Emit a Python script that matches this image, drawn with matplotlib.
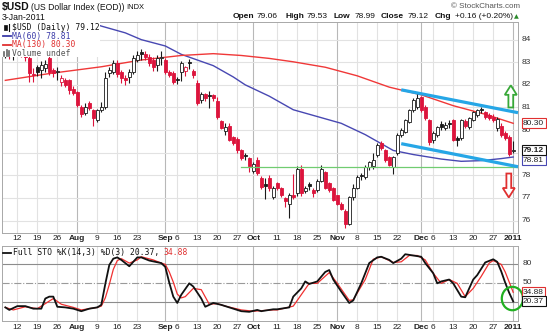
import matplotlib
matplotlib.use("Agg")
import matplotlib.pyplot as plt
import pandas as pd
from matplotlib.patches import Rectangle, FancyArrow, Ellipse
from matplotlib.lines import Line2D
from matplotlib.transforms import blended_transform_factory as blend

plt.rcParams['font.family'] = ['Liberation Sans', 'DejaVu Sans']

W, H = 547, 336

# trading days on the chart (no bar on Thanksgiving)
dates = pd.bdate_range("2010-07-07", "2011-01-03")
dates = dates[dates != pd.Timestamp("2010-11-25")]

opens = [
    83.40, 83.55, 83.30, 83.50, 83.70, 83.40, 83.18, 82.50, 82.78, 82.65,
    82.75, 83.18, 82.65, 82.55, 82.12, 82.20, 82.20, 81.80, 81.67, 81.01,
    80.74, 81.19, 80.87, 80.43, 80.90, 81.00, 82.52, 82.56, 82.96, 82.56,
    82.30, 82.34, 82.56, 83.09, 83.45, 83.38, 83.22, 83.10, 82.87, 83.20,
    83.09, 82.56, 82.52, 82.25, 82.55, 82.60, 83.00, 82.60, 82.07, 81.32,
    81.60, 81.56, 81.54, 81.30, 80.40, 79.95, 80.20, 79.68, 79.60, 79.10,
    78.90, 78.75, 78.20, 78.70, 77.90, 77.62, 77.90, 77.02, 77.64, 77.42,
    77.00, 76.75, 77.15, 77.20, 78.30, 77.30, 77.60, 77.33, 77.33, 77.77,
    78.13, 77.64, 77.42, 77.11, 76.75, 76.44, 75.87, 77.02, 77.46, 78.00,
    77.91, 78.35, 78.40, 78.88, 79.41, 79.10, 78.79, 78.35, 78.97, 79.77,
    79.90, 80.34, 80.87, 81.01, 81.45, 81.00, 80.43, 79.55, 79.77, 80.25,
    80.08, 80.30, 80.43, 79.65, 79.63, 80.40, 80.12, 80.43, 80.65, 80.95,
    80.79, 80.65, 80.60, 80.10, 80.20, 79.86, 79.68, 79.06]
highs = [
    83.75, 83.80, 83.65, 83.90, 83.85, 83.55, 83.30, 82.74, 82.90, 83.05,
    83.10, 83.30, 82.75, 82.78, 82.45, 82.30, 82.25, 81.95, 81.75, 81.10,
    81.20, 81.30, 80.95, 80.95, 81.25, 82.55, 82.80, 83.10, 83.10, 82.65,
    82.45, 82.70, 83.30, 83.50, 83.60, 83.50, 83.35, 83.25, 83.30, 83.50,
    83.20, 82.65, 82.60, 82.35, 83.05, 82.85, 83.15, 82.70, 82.20, 81.70,
    81.65, 81.75, 81.60, 81.45, 80.45, 80.30, 80.30, 79.75, 79.70, 79.15,
    79.00, 78.80, 78.60, 78.80, 77.95, 77.90, 78.00, 77.55, 77.70, 77.50,
    77.05, 77.20, 78.05, 78.40, 78.45, 77.55, 77.70, 77.45, 77.85, 78.45,
    78.20, 77.70, 77.50, 77.15, 76.80, 76.50, 77.10, 77.60, 78.00, 78.10,
    78.45, 78.65, 79.00, 79.45, 79.50, 79.15, 78.85, 78.85, 79.85, 80.10,
    80.50, 80.95, 81.40, 81.63, 81.50, 81.10, 80.50, 79.95, 80.20, 80.40,
    80.35, 80.45, 80.50, 79.75, 80.50, 80.50, 80.60, 80.85, 80.95, 81.00,
    80.85, 80.75, 80.70, 80.60, 80.30, 79.95, 79.80, 79.53]
lows = [
    83.20, 83.15, 83.10, 83.35, 83.25, 83.05, 82.12, 82.12, 82.40, 82.29,
    82.55, 82.45, 82.35, 82.20, 81.95, 81.90, 81.60, 81.55, 81.00, 80.60,
    80.65, 80.90, 80.17, 80.35, 80.80, 80.95, 82.35, 82.50, 82.35, 82.10,
    82.00, 82.10, 82.50, 83.00, 83.10, 83.10, 82.85, 82.60, 82.60, 82.90,
    82.50, 82.35, 82.05, 82.05, 82.15, 82.40, 82.70, 82.30, 81.10, 81.20,
    81.30, 80.97, 81.30, 80.50, 80.05, 79.80, 79.50, 79.35, 79.00, 78.70,
    78.70, 78.13, 78.10, 78.00, 77.40, 76.97, 77.30, 76.95, 77.35, 77.05,
    76.58, 76.13, 76.95, 77.10, 77.10, 77.20, 77.35, 77.05, 77.25, 77.70,
    77.40, 77.25, 76.85, 76.70, 76.45, 75.65, 75.80, 76.90, 77.40, 77.80,
    77.85, 78.25, 78.30, 78.80, 79.10, 78.60, 78.40, 78.08, 78.90, 79.70,
    79.85, 80.30, 80.80, 80.95, 80.80, 80.45, 79.35, 79.41, 79.70, 80.00,
    80.00, 80.10, 79.50, 79.30, 79.55, 80.10, 80.05, 80.40, 80.60, 80.75,
    80.50, 80.45, 80.35, 79.95, 79.70, 79.55, 78.85, 78.99]
closes = [
    83.55, 83.30, 83.50, 83.70, 83.40, 83.25, 82.52, 82.45, 82.56, 82.87,
    82.92, 82.56, 82.52, 82.60, 82.29, 81.98, 81.76, 81.65, 81.10, 80.70,
    81.01, 80.97, 80.52, 80.87, 81.00, 82.30, 82.65, 82.96, 82.50, 82.29,
    82.20, 82.56, 83.18, 83.31, 83.36, 83.22, 82.96, 82.78, 83.18, 83.25,
    82.56, 82.43, 82.12, 82.20, 82.96, 82.78, 82.95, 82.45, 81.19, 81.60,
    81.41, 81.50, 81.41, 80.60, 80.10, 80.15, 79.55, 79.41, 79.10, 78.75,
    78.85, 78.40, 78.50, 78.10, 77.50, 77.55, 77.42, 77.46, 77.42, 77.11,
    76.85, 77.11, 77.05, 78.30, 77.20, 77.46, 77.55, 77.20, 77.77, 78.30,
    77.46, 77.33, 76.89, 76.75, 76.53, 75.87, 77.02, 77.46, 77.91, 77.95,
    78.35, 78.57, 78.66, 79.32, 79.20, 78.66, 78.44, 78.79, 79.77, 79.99,
    80.43, 80.87, 81.32, 81.41, 80.87, 80.52, 79.46, 79.86, 80.12, 80.15,
    80.21, 80.25, 79.55, 79.58, 80.43, 80.20, 80.52, 80.79, 80.87, 80.90,
    80.60, 80.52, 80.43, 80.50, 79.80, 79.65, 78.96, 79.12]

# moving averages (MM-DD, 2010 unless January)
ma60_dates = ["08-04", "08-10", "08-18", "08-24", "09-01", "09-07", "09-17", "09-24",
              "09-29", "10-07", "10-15", "10-25", "11-02", "11-10", "11-16", "11-19",
              "11-29", "12-08", "12-15", "12-22", "12-29", "01-03"]
ma60 = [84.85, 84.6, 84.3, 84.0, 83.72, 83.35, 82.85, 82.35, 82.0, 81.5, 80.9,
        80.6, 80.3, 79.8, 79.4, 79.1, 78.92, 78.72, 78.62, 78.65, 78.74, 78.81]
ma130_dates = ["07-07", "07-22", "08-10", "08-24", "09-07", "09-17", "09-28", "10-07",
               "10-15", "10-27", "11-08", "11-18", "12-01", "12-13", "12-23", "01-03"]
ma130 = [82.2, 82.5, 82.8, 83.1, 83.3, 83.38, 83.3, 83.17, 83.02, 82.78, 82.4,
         81.9, 81.56, 81.08, 80.7, 80.30]

# full stochastics %K(14,3) and %D(3)
sto_k_dates = ["07-07", "07-08", "07-12", "07-14", "07-16", "07-20", "07-21", "07-22", "07-23", "07-26",
               "07-28", "07-30", "08-03", "08-05", "08-09", "08-10", "08-11", "08-12", "08-13", "08-16",
               "08-17", "08-19", "08-20", "08-23", "08-24", "08-26", "08-31", "09-01", "09-02", "09-03",
               "09-06", "09-07", "09-09", "09-10", "09-14", "09-15", "09-17", "09-21", "09-23", "09-28",
               "09-30", "10-04", "10-05", "10-08", "10-11", "10-14", "10-15", "10-19", "10-20", "10-21",
               "10-25", "10-27", "10-28", "10-29", "11-02", "11-04", "11-05", "11-09", "11-11", "11-15",
               "11-16", "11-18", "11-19", "11-23", "11-24", "11-29", "12-01", "12-02", "12-06", "12-07",
               "12-08", "12-10", "12-13", "12-15", "12-16", "12-17", "12-20", "12-21", "12-23", "12-27",
               "12-28", "12-29", "12-30", "12-31", "01-03"]
sto_k = [11, 7, 13, 13, 9, 9, 25, 28, 28, 12,
         11, 9, 5, 9, 11, 15, 48, 78, 88, 90,
         86, 76, 83, 90, 90, 85, 81, 75, 50, 28,
         18, 31, 49, 44, 25, 12, 18, 15, 11, 5,
         4, 7, 5, 8, 8, 11, 28, 41, 52, 48,
         52, 67, 70, 55, 36, 18, 22, 49, 81, 90,
         91, 86, 81, 88, 95, 93, 91, 81, 65, 49,
         52, 55, 49, 28, 27, 41, 55, 62, 82, 87,
         83, 68, 50, 34, 20.37]
sto_d_dates = ["07-07", "07-09", "07-14", "07-19", "07-20", "07-23", "07-27", "07-30", "08-03", "08-09",
               "08-10", "08-11", "08-12", "08-13", "08-16", "08-17", "08-19", "08-23", "08-24", "08-27",
               "08-31", "09-01", "09-02", "09-03", "09-06", "09-07", "09-08", "09-10", "09-14", "09-16",
               "09-20", "09-22", "09-28", "10-01", "10-08", "10-11", "10-15", "10-19", "10-21", "10-25",
               "10-28", "11-01", "11-04", "11-05", "11-10", "11-12", "11-16", "11-19", "11-23", "11-26",
               "11-30", "12-02", "12-06", "12-08", "12-10", "12-14", "12-16", "12-20", "12-22", "12-24",
               "12-27", "12-29", "12-30", "12-31", "01-03"]
sto_d = [11, 7, 12, 9, 13, 25, 16, 11, 7, 11,
         13, 26, 47, 71, 85, 88, 81, 86, 91, 86,
         81, 79, 67, 51, 32, 26, 28, 41, 39, 16,
         17, 13, 7, 5, 7, 7, 13, 31, 49, 49,
         66, 49, 22, 23, 55, 87, 91, 82, 83, 93,
         93, 86, 65, 49, 55, 49, 28, 41, 60, 81,
         85, 79, 67, 51, 34.88]

# hand-drawn annotations: channel lines and support line
channel_start = "11-23"
channel_start_price = [81.78, 79.40]
channel_end_price = [80.77, 78.38]
support_start = "09-28"
support_price = 78.35

last_open, last_high, last_low, last_close = 79.06, 79.53, 78.99, 79.12
last_chg, last_pct = 0.16, 0.20


def to_ts(s):
    return pd.Timestamp(("2011-" if s.startswith("01") else "2010-") + s)


n = len(dates)
idx = pd.Series(range(n), index=dates)


def xpos(ds):
    return [idx[to_ts(d)] for d in ds]


def fx(x):
    return x / W


def fy(y):
    return 1 - y / H


fig = plt.figure(figsize=(W / 100, H / 100), dpi=100)
ax = fig.add_axes([fx(2), fy(233), (518 - 2) / W, (233 - 22) / H])
sx = fig.add_axes([fx(2), fy(321), (518 - 2) / W, (321 - 246) / H])

xl = (-0.83, n + 0.2)
for a in (ax, sx):
    a.set_xlim(*xl)
    a.set_xticks([])
    a.set_yticks([])
    for s in a.spines.values():
        s.set_color('#a8a8a8')
        s.set_linewidth(0.7)
ax.set_ylim(75.45, 84.78)
sx.set_ylim(-10.5, 108)

# date ticks: first bar of each month and of each week
months = [i for i in range(1, n) if dates[i].month != dates[i - 1].month]
weeks = [i for i in range(1, n)
         if dates[i].isocalendar().week != dates[i - 1].isocalendar().week]
ticks = [(i, str(dates[i].year) if dates[i].month == 1 else dates[i].strftime('%b'), True)
         for i in months]
ticks += [(i, str(dates[i].day), False) for i in weeks
          if min(abs(i - m) for m in months) > 2]

for i, lab, bold in ticks:
    for a in (ax, sx):
        a.axvline(i, color='#b8b8b8' if bold else '#e2e2e2', lw=0.8, zorder=0)
    for a, yy in ((ax, 238), (sx, 327.5)):
        a.text(i, fy(yy), lab, transform=blend(a.transData, fig.transFigure),
               ha='center', va='center', fontsize=6, color='#222',
               fontweight='bold' if bold else 'normal')

for p in range(76, 85):
    ax.axhline(p, color='#e2e2e2', lw=0.8, zorder=0)
    if abs(p - last_close) < 0.3:
        continue  # hidden behind the close label, as on the original
    ax.text(fx(522), p, str(p), transform=blend(fig.transFigure, ax.transData),
            ha='left', va='center', fontsize=6, color='#333')

# candlesticks
red, blk = '#dc143c', '#1a1a1a'
for i in range(n):
    o, h, l, c = opens[i], highs[i], lows[i], closes[i]
    col = blk if (i == 0 or c >= closes[i - 1]) else red
    ax.vlines(i, l, h, color=col, lw=0.8, zorder=3)
    lo, hi = min(o, c), max(o, c)
    ax.add_patch(Rectangle((i - 0.36, lo), 0.72, max(hi - lo, 0.015),
                           facecolor=col if c < o else 'white',
                           edgecolor=col, lw=0.6, zorder=4))

ax.plot(xpos(ma60_dates), ma60, color='#4848b2', lw=1.0, zorder=2)
ax.plot(xpos(ma130_dates), ma130, color='#f03838', lw=1.0, zorder=2)

# annotations
x0 = idx[to_ts(channel_start)]
for p0, p1 in zip(channel_start_price, channel_end_price):
    ax.plot([x0, xl[1]], [p0, p1], color='#26a6e6', lw=2.3,
            solid_capstyle='butt', zorder=6, clip_on=False)
ax.plot([idx[to_ts(support_start)], xl[1]], [support_price] * 2,
        color='#70cc70', lw=0.9, zorder=5)
ax.add_patch(FancyArrow(n - 1.6, 81.0, 0, 0.98, width=1.2, head_width=3.0,
                        head_length=0.42, length_includes_head=True, fc='white',
                        ec='#38a838', lw=1.3, zorder=8, clip_on=False))
ax.add_patch(FancyArrow(n - 2.1, 78.08, 0, -1.06, width=1.2, head_width=3.0,
                        head_length=0.42, length_includes_head=True, fc='white',
                        ec='#e03030', lw=1.3, zorder=8, clip_on=False))

# legend box of the price panel
ax.add_patch(Rectangle((0, (233 - 57) / 211), 98 / 516, 1 - (233 - 57) / 211,
                       transform=ax.transAxes, facecolor='white', edgecolor='none', zorder=7))
mono = dict(family='DejaVu Sans Mono', fontsize=5.8, va='center')
fig.text(fx(12), fy(27), f"$USD (Daily) {last_close:.2f}", color='#111', **mono)
fig.text(fx(12), fy(36), f"MA(60) {ma60[-1]:.2f}", color='#3a3aa8', **mono)
fig.text(fx(12), fy(45), f"MA(130) {ma130[-1]:.2f}", color='#e03030', **mono)
fig.text(fx(12), fy(53.5), "Volume undef", color='#555', **mono)
fig.add_artist(Rectangle((fx(4), fy(30)), 2.5 / W, 5 / H, transform=fig.transFigure,
                         facecolor='#111', edgecolor='#111', lw=0.5))
fig.add_artist(Line2D([fx(8.5)] * 2, [fy(31), fy(23.5)], transform=fig.transFigure, color='#111', lw=0.8))
fig.add_artist(Line2D([fx(3), fx(11)], [fy(36)] * 2, transform=fig.transFigure, color='#3a3aa8', lw=1.3))
fig.add_artist(Line2D([fx(3), fx(11)], [fy(45)] * 2, transform=fig.transFigure, color='#e03030', lw=1.3))
for bx, bh in ((4, 4), (6.5, 6), (9, 5)):
    fig.add_artist(Line2D([fx(bx)] * 2, [fy(56), fy(56 - bh)], transform=fig.transFigure,
                          color='#666', lw=1.2))


def value_box(a, y, text, ec, bold=False):
    a.text(fx(523), y, text, transform=blend(fig.transFigure, a.transData),
           ha='left', va='center', fontsize=6, color='#222', zorder=20,
           fontweight='bold' if bold else 'normal', clip_on=False,
           bbox=dict(boxstyle='square,pad=0.18', fc='white', ec=ec, lw=0.8))


value_box(ax, ma130[-1], f"{ma130[-1]:.2f}", '#e03030')
# pushed a little below its value so it does not sit under the close label
value_box(ax, ma60[-1] - 0.15, f"{ma60[-1]:.2f}", '#4848b2')
value_box(ax, last_close, f"{last_close:.2f}", '#111', bold=True)

# stochastics panel
sx.axhline(80, color='#8c8c8c', lw=0.8, zorder=1)
sx.axhline(20, color='#8c8c8c', lw=0.8, zorder=1)
sx.axhline(50, color='#9a9a9a', lw=0.8, ls='-.', zorder=1)
sx.plot(xpos(sto_d_dates), sto_d, color='#f03030', lw=0.9, zorder=3)
sx.plot(xpos(sto_k_dates), sto_k, color='#111', lw=1.3, zorder=4)
for v in (80, 50):
    sx.text(fx(523), v, str(v), transform=blend(fig.transFigure, sx.transData),
            ha='left', va='center', fontsize=6, color='#333')
value_box(sx, sto_d[-1], f"{sto_d[-1]:.2f}", '#e03030')
value_box(sx, sto_k[-1], f"{sto_k[-1]:.2f}", '#111')
sx.add_patch(Ellipse((n - 1.2, 25), 5.3, 37, fill=False, ec='#22b022', lw=1.6,
                     zorder=8, clip_on=False))
fig.add_artist(Line2D([fx(3), fx(11)], [fy(252.7)] * 2, transform=fig.transFigure, color='#111', lw=1.3))
sto_txt = f"Full STO %K(14,3) %D(3) {sto_k[-1]:.2f}, "
fig.text(fx(13), fy(252.7), sto_txt, color='#111', **mono)
fig.text(fx(13 + len(sto_txt) * 4.85), fy(252.7), f"{sto_d[-1]:.2f}", color='#e03030', **mono)

# header
fig.text(fx(2), fy(7), "$USD", fontsize=7.5, fontweight='bold', va='center', color='#111')
fig.text(fx(31), fy(7), "(US Dollar Index (EOD))", fontsize=6.2, va='center', color='#111')
fig.text(fx(126), fy(7.5), "INDX", fontsize=5.4, va='center', color='#111')
fig.text(fx(2), fy(17), "3-Jan-2011", fontsize=6.3, va='center', color='#111')
fig.text(fx(520), fy(7), "\u00a9 StockCharts.com", fontsize=5.8, va='center', ha='right', color='#555')
row = [(233, "Open", True), (257, f"{last_open:.2f}", False),
       (285, "High", True), (307, f"{last_high:.2f}", False),
       (333, "Low", True), (355, f"{last_low:.2f}", False),
       (381, "Close", True), (408, f"{last_close:.2f}", False),
       (435, "Chg", True), (455, f"+{last_chg:.2f} (+{last_pct:.2f}%)", False)]
for x, t, b in row:
    fig.text(fx(x), fy(17), t, fontsize=6, va='center', color='#111',
             fontweight='bold' if b else 'normal')
fig.text(fx(514), fy(17), "\u25b2", fontsize=4.5, va='center', color='#2a8a2a',
         family='DejaVu Sans')

fig.savefig("out.png", dpi=100)
